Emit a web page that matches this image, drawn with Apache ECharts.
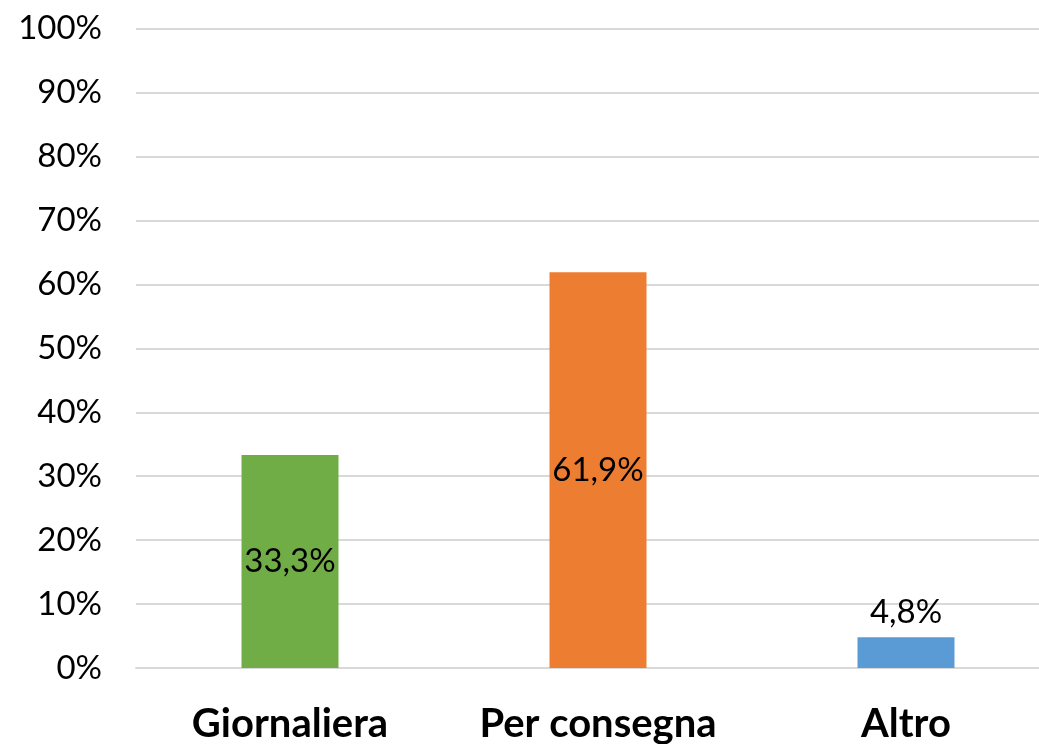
<!DOCTYPE html>
<html>
<head>
<meta charset="utf-8">
<script src="https://cdn.jsdelivr.net/npm/echarts@6/dist/echarts.min.js"></script>
<style>
  html, body { margin: 0; padding: 0; background: #fff; overflow: hidden; }
  #chart { width: 1060px; height: 744px; }
</style>
</head>
<body>
<div id="chart"></div>
<script>
const categories = ['Giornaliera', 'Per consegna', 'Altro']
const values = [33.3, 61.9, 4.8]
const barColors = ['#70ad47', '#ed7d31', '#5b9bd5']
const labelPositions = ['inside', 'inside', 'top']

// the original plot runs past the right edge of the picture, so the canvas is wider than the window
const chart = echarts.init(document.getElementById('chart'))
const font = 'Lato, "Open Sans", sans-serif'

const option = {
  animation: false,
  grid: { left: 136, right: 0, top: 28.7, bottom: 74.5 },
  xAxis: {
    type: 'category',
    data: categories,
    axisLine: { lineStyle: { color: '#d9d9d9', width: 2 } },
    axisTick: { show: false },
    axisLabel: {
      interval: 0,
      hideOverlap: false,
      margin: 36,
      color: '#000',
      fontFamily: font,
      fontWeight: 'bold',
      fontSize: 40
    }
  },
  yAxis: {
    type: 'value',
    min: 0,
    max: 100,
    interval: 10,
    axisLine: { show: false },
    axisTick: { show: false },
    splitLine: { lineStyle: { color: '#d9d9d9', width: 2 } },
    axisLabel: {
      formatter: '{value}%',
      margin: 34,
      color: '#000',
      fontFamily: font,
      fontSize: 33
    }
  },
  series: [
    {
      type: 'bar',
      barWidth: 97,
      data: values.map((v, i) => ({
        value: v,
        itemStyle: { color: barColors[i] },
        label: { position: labelPositions[i] }
      })),
      label: {
        show: true,
        distance: 8,
        color: '#000',
        fontFamily: font,
        fontSize: 33,
        formatter: p => String(p.value).replace('.', ',') + '%'
      }
    }
  ]
}
chart.setOption(option)
</script>
</body>
</html>
